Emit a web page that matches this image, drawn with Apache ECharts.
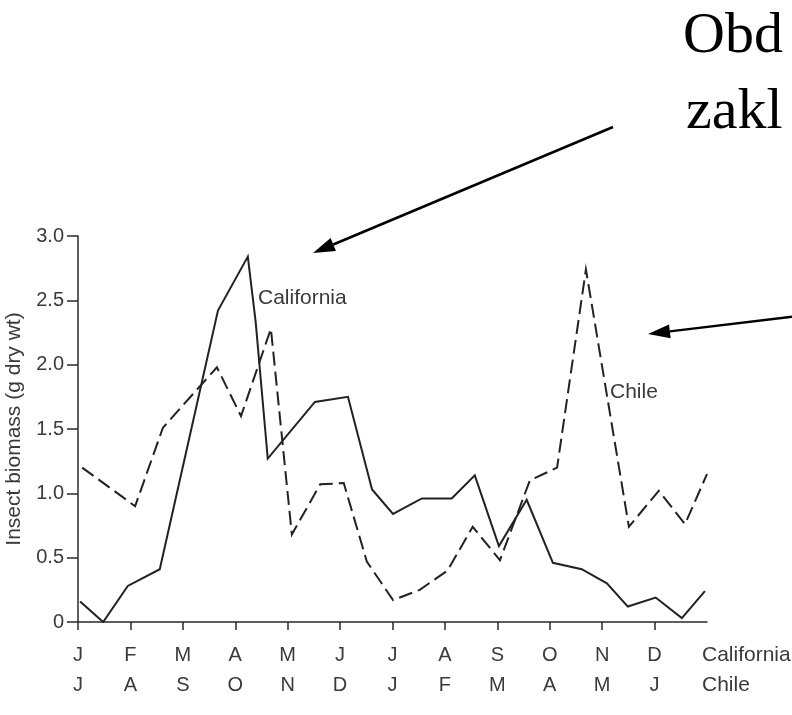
<!DOCTYPE html>
<html>
<head>
<meta charset="utf-8">
<script src="https://cdn.jsdelivr.net/npm/echarts@6/dist/echarts.min.js"></script>
<style>
html,body{margin:0;padding:0;background:#fff;}
#chart{width:792px;height:715px;}
</style>
</head>
<body>
<div id="chart"></div>
<script>
// Month tick labels (two rows: California, Chile)
var californiaMonths = ['J','F','M','A','M','J','J','A','S','O','N','D'];
var chileMonths = ['J','A','S','O','N','D','J','F','M','A','M','J'];
var yTicks = [0, 0.5, 1.0, 1.5, 2.0, 2.5, 3.0];

// California (solid) - x in months from January, y in g dry wt
var californiaX = [0.04,0.48,0.95,1.56,2.67,3.24,3.39,3.62,4.52,5.15,5.61,6.01,6.56,7.13,7.57,8.03,8.56,9.06,9.61,10.09,10.49,11.02,11.52,11.96];
var californiaY = [0.16,0.00,0.28,0.41,2.42,2.84,2.33,1.27,1.71,1.75,1.03,0.84,0.96,0.96,1.14,0.59,0.95,0.46,0.41,0.30,0.12,0.19,0.03,0.24];

// Chile (dashed)
var chileX = [0.08,1.09,1.62,2.65,3.11,3.68,4.08,4.62,5.07,5.51,6.01,6.52,7.05,7.53,8.05,8.62,9.14,9.69,10.51,11.08,11.58,12.0];
var chileY = [1.20,0.90,1.51,1.98,1.60,2.28,0.68,1.07,1.08,0.47,0.17,0.25,0.40,0.74,0.48,1.10,1.20,2.74,0.74,1.02,0.76,1.15];

function zip(xs, ys){ return xs.map(function(x,i){ return [x, ys[i]]; }); }
var monthIdx = californiaMonths.map(function(m,i){ return i; });

function arrow(x1,y1,x2,y2){
  var dx = x2-x1, dy = y2-y1, len = Math.sqrt(dx*dx+dy*dy);
  var ux = dx/len, uy = dy/len, hl = 22, hw = 7;
  var bx = x2 - hl*ux, by = y2 - hl*uy;
  var nx = -uy, ny = ux;
  return [
    {type:'line', shape:{x1:x1,y1:y1,x2:bx,y2:by}, style:{stroke:'#000', lineWidth:2.5}},
    {type:'polygon', shape:{points:[[x2,y2],[bx+hw*nx,by+hw*ny],[bx-hw*nx,by-hw*ny]]}, style:{fill:'#000'}}
  ];
}

var txt = '#3a3a3a';
var sans = 'Liberation Sans, Arial, sans-serif';
var chart = echarts.init(document.getElementById('chart'), null, {renderer:'canvas'});
var graphics = [
  {type:'text', left:683, top:8, style:{text:'Obd', font:'58px "Liberation Serif", "Times New Roman", serif', fill:'#000'}},
  {type:'text', left:686, top:84, style:{text:'zakl', font:'58px "Liberation Serif", "Times New Roman", serif', fill:'#000'}},
  {type:'text', left:258, top:288, style:{text:'California', font:'21px ' + sans, fill:txt}},
  {type:'text', left:610, top:382, style:{text:'Chile', font:'21px ' + sans, fill:txt}},
  {type:'text', left:702, top:645, style:{text:'California', font:'21px ' + sans, fill:txt}},
  {type:'text', left:702, top:675, style:{text:'Chile', font:'21px ' + sans, fill:txt}}
].concat(arrow(613,127,313,253)).concat(arrow(792,316.7,648,334));

chart.setOption({
  animation:false,
  backgroundColor:'#fff',
  grid:{left:78, right:85, top:236, bottom:93, containLabel:false, outerBoundsMode:'none'},
  xAxis:{
    type:'value', min:0, max:12, interval:1,
    axisLine:{show:true, lineStyle:{color:'#2a2a2a', width:1.5}},
    axisTick:{show:true, customValues:monthIdx, length:8, lineStyle:{color:'#2a2a2a', width:1.5}},
    splitLine:{show:false},
    axisLabel:{
      customValues:monthIdx, margin:18, color:txt, fontSize:20, fontFamily:sans, lineHeight:30,
      formatter:function(v){ var i=Math.round(v); return (californiaMonths[i]||'') + '\n' + (chileMonths[i]||''); }
    }
  },
  yAxis:{
    type:'value', min:0, max:3, interval:0.5,
    name:'Insect biomass (g dry wt)', nameLocation:'middle', nameRotate:90, nameGap:53,
    nameTextStyle:{color:txt, fontSize:21, fontFamily:sans},
    axisLine:{show:true, lineStyle:{color:'#2a2a2a', width:1.5}},
    axisTick:{show:true, length:11, lineStyle:{color:'#2a2a2a', width:1.5}},
    splitLine:{show:false},
    axisLabel:{margin:14, color:txt, fontSize:20, fontFamily:sans,
      formatter:function(v){ return v===0 ? '0' : v.toFixed(1); }}
  },
  series:[
    {name:'California', type:'line', data:zip(californiaX, californiaY), symbol:'none', showSymbol:false,
     lineStyle:{color:'#222', width:2, join:'miter', cap:'butt'}},
    {name:'Chile', type:'line', data:zip(chileX, chileY), symbol:'none', showSymbol:false,
     lineStyle:{color:'#222', width:2, type:[14,6], join:'miter', cap:'butt'}}
  ],
  graphic:graphics
});
</script>
</body>
</html>
